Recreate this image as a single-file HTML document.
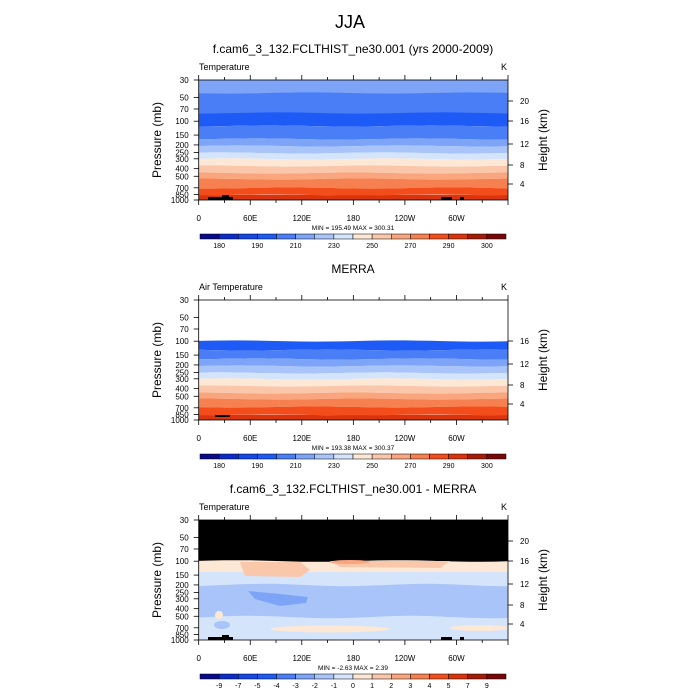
<!DOCTYPE html>
<html><head><meta charset="utf-8"><style>
body{margin:0;background:#fff}
svg{display:block;font-family:"Liberation Sans",sans-serif}
</style></head><body>
<svg id="s" width="700" height="700" viewBox="0 0 700 700" xmlns="http://www.w3.org/2000/svg">
<rect width="700" height="700" fill="#fff"/>
<text x="350" y="28" font-size="18" text-anchor="middle">JJA</text>
</svg>
<script>
const S=document.getElementById('s');let h='';
const X0=198.7,X1=508,W=X1-X0,H=120;
const cmapT=['#080a8a','#0b2cc8','#1448e8','#1e5af5','#4a7ef6','#7ea4f7','#a9c4f8','#d4e4fb','#fde8d6','#fbc7aa','#f9a67f','#f6804f','#f34d1c','#d9340e','#a41c08','#780808'];
function band(T,y0,y1,c,amp){
  let pts=[];const n=24;
  for(let i=0;i<=n;i++){let x=X0+W*i/n;pts.push([x,T+y0+(amp&&y0>0?amp*Math.sin(i*0.5+y0):0)]);}
  for(let i=n;i>=0;i--){let x=X0+W*i/n;pts.push([x,T+y1+(amp&&y1<H?amp*Math.sin(i*0.5+y1):0)]);}
  h+=`<polygon points="${pts.map(p=>p[0].toFixed(1)+','+p[1].toFixed(1)).join(' ')}" fill="${c}"/>`;
}
function panel(T,bands,title,sub,minmax,labels,topo,hl){
  h+=`<text x="353" y="${T-27}" font-size="12" text-anchor="middle">${title}</text>`;
  h+=`<text x="199" y="${T-10}" font-size="9">${sub}</text><text x="501" y="${T-10}" font-size="9">K</text>`;
  h+=`<svg x="${X0}" y="${T}" width="${W}" height="${H}" viewBox="${X0} ${T} ${W} ${H}" overflow="hidden">`;
  bands.forEach(b=>{ if(b.r) h+=`<${b.r}/>`; else band(T,b[0],b[1],b[2],b[3]||0);});
  if(topo){h+=`<rect x="208" y="${T+117}" width="25" height="3" fill="#000"/><rect x="222" y="${T+115}" width="7" height="5" fill="#000"/><rect x="441" y="${T+117}" width="11" height="3" fill="#000"/><rect x="460" y="${T+117}" width="4" height="3" fill="#000"/>`;}
  h+=`</svg>`;
  h+=`<rect x="${X0}" y="${T}" width="${W}" height="${H}" fill="none" stroke="#000" stroke-width="0.8"/>`;
  const xl=['0','60E','120E','180','120W','60W'];
  for(let i=0;i<=12;i++){let x=X0+W*i/12,L=i%2?3:5;
    h+=`<line x1="${x}" y1="${T}" x2="${x}" y2="${T-L}" stroke="#000" stroke-width="0.8"/><line x1="${x}" y1="${T+H}" x2="${x}" y2="${T+H+L}" stroke="#000" stroke-width="0.8"/>`;
    if(i%2==0&&i<12)h+=`<text x="${x}" y="${T+141}" font-size="8" text-anchor="middle">${xl[i/2]}</text>`;}
  [30,50,70,100,150,200,250,300,400,500,700,850,1000].forEach(p=>{let y=T+78.8*Math.log10(p/30);
    h+=`<line x1="${X0-5}" y1="${y}" x2="${X0}" y2="${y}" stroke="#000" stroke-width="0.8"/><text x="${X0-10}" y="${y+3}" font-size="8" text-anchor="end">${p}</text>`;});
  hl.forEach(([k,d])=>{let y=T+d;
    h+=`<line x1="${X1}" y1="${y}" x2="${X1+5}" y2="${y}" stroke="#000" stroke-width="0.8"/><text x="${X1+12}" y="${y+3}" font-size="8">${k}</text>`;});
  h+=`<text transform="translate(161,${T+60}) rotate(-90)" font-size="12" text-anchor="middle">Pressure (mb)</text>`;
  h+=`<text transform="translate(547,${T+60}) rotate(-90)" font-size="12" text-anchor="middle">Height (km)</text>`;
  h+=`<text x="353" y="${T+150}" font-size="6.5" text-anchor="middle">${minmax}</text>`;
  const bw=306/16;
  for(let i=0;i<16;i++)h+=`<rect x="${200+i*bw}" y="${T+154}" width="${bw}" height="5" fill="${cmapT[i]}" stroke="#000" stroke-width="0.5"/>`;
  labels.forEach((l,i)=>{if(l!==null)h+=`<text x="${200+(i+1)*bw}" y="${T+168}" font-size="7" text-anchor="middle">${l}</text>`;});
}
const A=0.6;
const topBands=[[0,14,'#7ea4f7'],[13,34,'#4a7ef6',A],[33,46,'#1e5af5',A],[46,59,'#4a7ef6',A],[59,66,'#7ea4f7',A],[66,73,'#a9c4f8',A],[73,79,'#d4e4fb',A],[79,86,'#fde8d6',A],[86,93,'#fbc7aa',A],[93,99,'#f9a67f',A],[99,108,'#f6804f',A],[108,115,'#f34d1c',A],[115,121,'#d9340e',0.3]];
const midBands=[[0,41,'#fff'],[41,50,'#1e5af5',A],[50,59,'#4a7ef6',A],[59,66,'#7ea4f7',A],[66,73,'#a9c4f8',A],[73,79,'#d4e4fb',A],[79,86,'#fde8d6',A],[86,93,'#fbc7aa',A],[93,99,'#f9a67f',A],[99,107,'#f6804f',A],[107,115,'#f34d1c',A],[115,121,'#d9340e',0.3]];
const T3=520;
const diffBands=[[0,42,'#000'],[41,53,'#fde8d6',0.8],[52,121,'#d4e4fb'],[65,97,'#a9c4f8',1.2],
 {r:`path d="M240 ${T3+42} L300 ${T3+42} L310 ${T3+50} L300 ${T3+57} L245 ${T3+56} Z" fill="#fbc7aa"`},
 {r:`path d="M330 ${T3+41} L450 ${T3+41} L440 ${T3+48} L340 ${T3+47} Z" fill="#fbc7aa"`},
 {r:`ellipse cx="350" cy="${T3+42}" rx="20" ry="2" fill="#f9a67f"`},
 {r:`path d="M248 ${T3+71} L280 ${T3+74} L308 ${T3+77} L306 ${T3+83} L280 ${T3+86} L255 ${T3+79} Z" fill="#7ea4f7"`},
 {r:`path d="M440 ${T3+85} L508 ${T3+83} L508 ${T3+97} L445 ${T3+97} Z" fill="#a9c4f8"`},
 {r:`ellipse cx="330" cy="${T3+109}" rx="60" ry="3.5" fill="#fde8d6"`},
 {r:`ellipse cx="480" cy="${T3+108}" rx="30" ry="3" fill="#fde8d6"`},
 {r:`ellipse cx="222" cy="${T3+105}" rx="8" ry="4" fill="#a9c4f8"`},
 {r:`ellipse cx="219" cy="${T3+95}" rx="4" ry="4" fill="#fde8d6"`}];
const tl=['180',null,'190',null,'210',null,'230',null,'250',null,'270',null,'290',null,'300'];
const hlAll=[[20,21],[16,41],[12,64],[8,85],[4,104]];
panel(80,topBands,'f.cam6_3_132.FCLTHIST_ne30.001 (yrs 2000-2009)','Temperature','MIN = 195.49  MAX = 300.31',tl,true,hlAll);
panel(300,midBands,'MERRA','Air Temperature','MIN = 193.38  MAX = 300.37',tl,false,hlAll.slice(1));
h+=`<rect x="215" y="415" width="15" height="2" fill="#000"/>`;
panel(520,diffBands,'f.cam6_3_132.FCLTHIST_ne30.001 - MERRA','Temperature','MIN =  -2.63  MAX =   2.39',['-9','-7','-5','-4','-3','-2','-1','0','1','2','3','4','5','7','9'],true,hlAll);
S.insertAdjacentHTML('beforeend',h);
</script>
</body></html>
